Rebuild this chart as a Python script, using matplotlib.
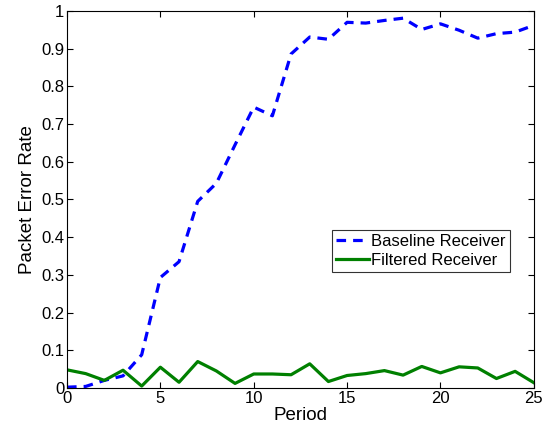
import matplotlib
matplotlib.use("Agg")
import matplotlib.pyplot as plt
from matplotlib.ticker import FuncFormatter

period = list(range(26))
baseline = [0.002, 0.004, 0.02, 0.032, 0.088, 0.293, 0.335, 0.495, 0.543, 0.645,
            0.745, 0.722, 0.886, 0.931, 0.925, 0.970, 0.968, 0.975, 0.981, 0.951,
            0.966, 0.949, 0.928, 0.940, 0.944, 0.962]
filtered = [0.048, 0.038, 0.020, 0.047, 0.005, 0.055, 0.015, 0.070, 0.045, 0.012,
            0.037, 0.037, 0.035, 0.064, 0.017, 0.033, 0.038, 0.046, 0.034, 0.057,
            0.040, 0.056, 0.053, 0.025, 0.044, 0.014]
xticks = [0, 5, 10, 15, 20, 25]
yticks = [0, 0.1, 0.2, 0.3, 0.4, 0.5, 0.6, 0.7, 0.8, 0.9, 1.0]

plt.rcParams['font.family'] = ['Liberation Sans', 'DejaVu Sans']

fig = plt.figure(figsize=(5.52, 4.32), dpi=100)
ax = fig.add_axes([0.1214, 0.102, 0.8456, 0.8725])

ax.plot(period, baseline, color=(0, 0, 1), lw=2.3, linestyle='--', dashes=(3, 2.2),
        label='Baseline Receiver')
ax.plot(period, filtered, color=(0, 0.5, 0), lw=2.3, label='Filtered Receiver')

ax.set_xlim(0, 25)
ax.set_ylim(0, 1)
ax.set_xticks(xticks)
ax.set_yticks(yticks)
ax.yaxis.set_major_formatter(FuncFormatter(lambda v, p: '%g' % v))
ax.tick_params(direction='in', top=True, right=True, labelsize=12, length=4, width=0.8, pad=2)
for s in ax.spines.values():
    s.set_linewidth(0.8)

ax.set_xlabel('Period', fontsize=13.5, labelpad=1)
ax.set_ylabel('Packet Error Rate', fontsize=13.5, labelpad=4)

leg = ax.legend(loc='upper left', bbox_to_anchor=(0.567, 0.419), fontsize=12,
                frameon=True, fancybox=False, handlelength=2.0, handletextpad=0.1,
                borderpad=0.25, labelspacing=0.2, borderaxespad=0)
leg.get_frame().set_edgecolor('black')
leg.get_frame().set_linewidth(0.8)

fig.savefig('out.png', dpi=100)
